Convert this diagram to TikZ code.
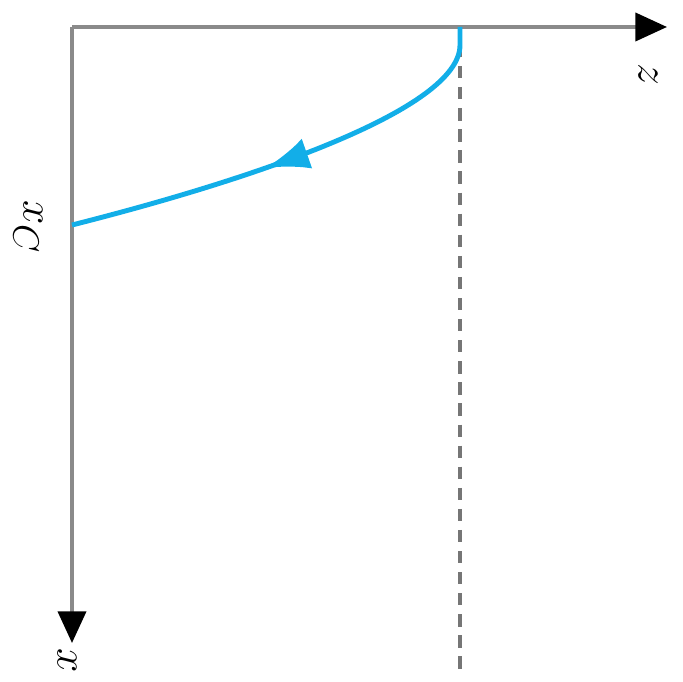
\documentclass[tikz,border=0pt]{standalone}
\usepackage{xcolor}
\usepackage{tikz}
\usetikzlibrary{arrows.meta, decorations.markings}
\definecolor{axisgray}{HTML}{8A8A8A}
\definecolor{dashgray}{HTML}{767676}
\definecolor{pathblue}{HTML}{12AEE8}

\begin{document}
\begin{tikzpicture}[x=0.02cm, y=-0.02cm,
      axis/.style={line width=2pt, color=axisgray,
        -{Triangle[length=18pt, width=16pt, color=black]}},
      lbl/.style={font=\fontsize{31}{34}\selectfont, rotate=-90, inner sep=0pt},
      guide/.style={line width=2pt, color=dashgray, dash pattern=on 7pt off 5pt},
      traj/.style={line width=2.8pt, color=pathblue,
        postaction={decorate, decoration={markings,
          mark=at position 0.56 with {\arrow{Latex[length=25pt, width=18pt]}}}}}]

    \useasboundingbox (0,0) rectangle (683,682);

    \coordinate (O) at (72,27);
    \coordinate (zend) at (667,27);
    \coordinate (xend) at (72,643);
    \coordinate (top) at (460,27);
    \coordinate (bot) at (460,670);
    \coordinate (xc) at (72,225);

    \draw[guide] (top) ++(0,18) -- (bot);
    \draw[axis] (O) -- (zend);
    \draw[axis] (O) -- (xend);

    \node[lbl] (zlbl) at (648,74) {$z$};
    \node[lbl] (xlbl) at (67,661) {$x$};
    \node[lbl] (xclbl) at (28,227) {$x_C$};

    \draw[traj] (top) -- ++(0,18) .. controls (460,110) and (250,180) .. (xc);
  \end{tikzpicture}
\end{document}
